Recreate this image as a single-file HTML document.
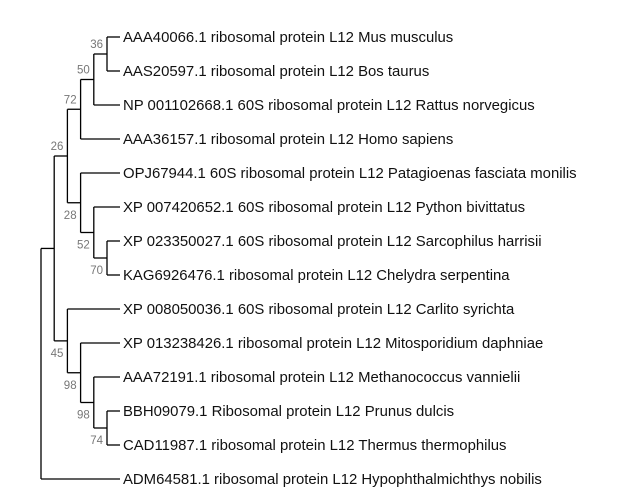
<!DOCTYPE html>
<html><head><meta charset="utf-8"><style>
html,body{margin:0;padding:0;background:#fff;}
svg{display:block;}
.leaf{font-family:"Liberation Sans",sans-serif;font-size:14.9px;fill:#111;}
.sup{font-family:"Liberation Sans",sans-serif;font-size:11.5px;fill:#777;text-anchor:end;}
</style></head><body>
<svg id="tree" width="620" height="492" viewBox="0 0 620 492"></svg>
<script>
const leafNames = [
"AAA40066.1 ribosomal protein L12 Mus musculus",
"AAS20597.1 ribosomal protein L12 Bos taurus",
"NP 001102668.1 60S ribosomal protein L12 Rattus norvegicus",
"AAA36157.1 ribosomal protein L12 Homo sapiens",
"OPJ67944.1 60S ribosomal protein L12 Patagioenas fasciata monilis",
"XP 007420652.1 60S ribosomal protein L12 Python bivittatus",
"XP 023350027.1 60S ribosomal protein L12 Sarcophilus harrisii",
"KAG6926476.1 ribosomal protein L12 Chelydra serpentina",
"XP 008050036.1 60S ribosomal protein L12 Carlito syrichta",
"XP 013238426.1 ribosomal protein L12 Mitosporidium daphniae",
"AAA72191.1 ribosomal protein L12 Methanococcus vannielii",
"BBH09079.1 Ribosomal protein L12 Prunus dulcis",
"CAD11987.1 ribosomal protein L12 Thermus thermophilus",
"ADM64581.1 ribosomal protein L12 Hypophthalmichthys nobilis"
];
const nodeChildren = [
 [0,1],        // n0 (36)
 ["n0",2],     // n1 (50)
 ["n1",3],     // n2 (72)
 [6,7],        // n3 (70)
 [5,"n3"],     // n4 (52)
 [4,"n4"],     // n5 (28)
 ["n2","n5"],  // n6 (26)
 [11,12],      // n7 (74)
 [10,"n7"],    // n8 (98)
 [9,"n8"],     // n9 (98)
 [8,"n9"],     // n10 (45)
 ["n6","n10"], // n11
 ["n11",13]    // n12 root
];
const nodeDepth = [5,4,3,5,4,3,2,5,4,3,2,1,0];
const nodeSupport = ["36","50","72","70","52","28","26","74","98","98","45","",""];
const labelBelow = [0,0,0,1,1,1,0,1,1,1,1,0,0];

const svg=document.getElementById('tree');
const NS='http://www.w3.org/2000/svg';
const xOf=d=>41+d*13.2;
const yOf=i=>37+i*34;
const tipX=120;
function el(t,a){const e=document.createElementNS(NS,t);for(const k in a)e.setAttribute(k,a[k]);svg.appendChild(e);return e;}
const nodeY=[];
function childY(c){return typeof c==='number'?yOf(c):nodeY[+c.slice(1)];}
function childX(c){return typeof c==='number'?tipX:xOf(nodeDepth[+c.slice(1)]);}
nodeChildren.forEach((ch,i)=>{nodeY[i]=(childY(ch[0])+childY(ch[1]))/2;});
nodeChildren.forEach((ch,i)=>{
  const x=xOf(nodeDepth[i]);
  const y1=childY(ch[0]),y2=childY(ch[1]);
  const v=el('line',{x1:x,y1:y1,x2:x,y2:y2,stroke:'#000','stroke-width':1.3});
  
  
  ch.forEach(c=>{
    const h=el('line',{x1:x,y1:childY(c),x2:childX(c),y2:childY(c),stroke:'#000','stroke-width':1.3});
    
    
  });
  if(nodeSupport[i]){
    const t=el('text',{x:x-4,y:labelBelow[i]?nodeY[i]+16:nodeY[i]-6,class:'sup'});
    t.textContent=nodeSupport[i];
    
    
  }
});
leafNames.forEach((n,i)=>{
  const t=el('text',{x:123,y:yOf(i)+5,class:'leaf'});
  t.textContent=n;
  
  
});
</script>
</body></html>
